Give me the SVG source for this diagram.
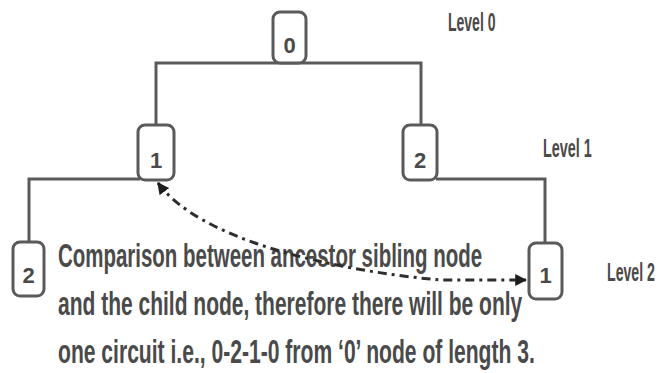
<svg xmlns="http://www.w3.org/2000/svg" width="670" height="373" viewBox="0 0 670 373">
<style>
.box{fill:#fff;stroke:#5a5a5a;stroke-width:3}
.edge{fill:none;stroke:#5a5a5a;stroke-width:3}
.dig{font-family:"Liberation Sans",Arial,sans-serif;font-weight:bold;font-size:22px;fill:#4a4a4a;text-anchor:middle}
.lvl{font-family:"Liberation Sans",Arial,sans-serif;font-weight:bold;font-size:25px;fill:#4a4a4a}
.note{font-family:"Liberation Sans",Arial,sans-serif;font-weight:bold;font-size:33px;fill:#4a4a4a}
.arrow{fill:none;stroke:#2e2e2e;stroke-width:3;stroke-dasharray:9 5 3 5}
</style>
<defs>
<marker id="ah" viewBox="0 0 10 10" refX="9" refY="5" markerWidth="4" markerHeight="4" orient="auto-start-reverse" markerUnits="strokeWidth">
<path d="M0,0 L10,5 L0,10 z" fill="#1e1e1e"/>
</marker>
</defs>
<rect width="670" height="373" fill="#fff"/>
<g id="connectors">
<path class="edge" d="M156,125 V63 H421 V125"/>
<path class="edge" d="M140,179 H29 V242"/>
<path class="edge" d="M436,179 H545 V243"/>
</g>
<g id="node-0"><rect class="box" x="273" y="12" width="33" height="51" rx="7"/><text class="dig" x="289.5" y="53">0</text></g>
<g id="node-1-l1"><rect class="box" x="138" y="125" width="36" height="55" rx="7"/><text class="dig" x="156" y="168">1</text></g>
<g id="node-2-l1"><rect class="box" x="403" y="125" width="34" height="55" rx="7"/><text class="dig" x="420" y="168">2</text></g>
<g id="node-2-l2"><rect class="box" x="13" y="242" width="31" height="54" rx="7"/><text class="dig" x="28.5" y="283">2</text></g>
<g id="node-1-l2"><rect class="box" x="529" y="243" width="33" height="56" rx="7"/><text class="dig" x="545.5" y="283">1</text></g>
<g id="levels">
<text class="lvl" transform="translate(448,31) scale(0.56,1)" x="0" y="0">Level 0</text>
<text class="lvl" transform="translate(543,157) scale(0.575,1)" x="0" y="0">Level 1</text>
<text class="lvl" transform="translate(607,281) scale(0.565,1)" x="0" y="0">Level 2</text>
</g>
<g id="note">
<text class="note" transform="translate(58,267) scale(0.62,1)" x="0" y="0" textLength="684" lengthAdjust="spacingAndGlyphs">Comparison between ancestor sibling node</text>
<text class="note" transform="translate(58,315) scale(0.636,1)" x="0" y="0" textLength="730" lengthAdjust="spacingAndGlyphs">and the child node, therefore there will be only</text>
<text class="note" transform="translate(58,363) scale(0.6375,1)" x="0" y="0" textLength="748" lengthAdjust="spacingAndGlyphs">one circuit i.e., 0-2-1-0 from ‘0’ node of length 3.</text>
</g>
<g id="arrow">
<path class="arrow" d="M158,183 C200,240 330,270 440,280 L526,280" marker-start="url(#ah)" marker-end="url(#ah)"/>
</g>
</svg>
